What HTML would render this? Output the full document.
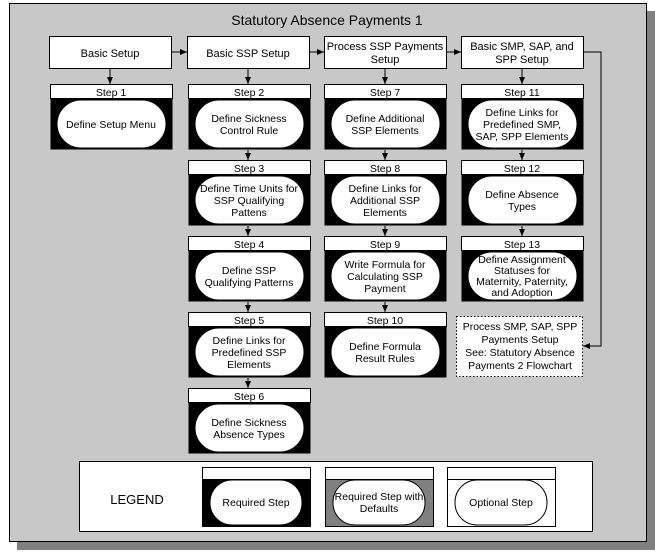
<!DOCTYPE html>
<html><head><meta charset="utf-8"><style>
html,body{margin:0;padding:0;background:#fff;width:655px;height:554px;overflow:hidden}
svg text{font-family:"Liberation Sans",Arial,sans-serif;fill:#000}
</style></head><body>
<svg width="655" height="554" viewBox="0 0 655 554" xmlns="http://www.w3.org/2000/svg">
<defs>
<marker id="a" markerWidth="8" markerHeight="8" refX="7" refY="4" orient="auto" markerUnits="userSpaceOnUse"><path d="M0,1 L7,4 L0,7 z" fill="#000"/></marker>
</defs>
<rect x="17" y="11" width="638" height="539" fill="#808080"/>
<rect x="9.5" y="3.5" width="637" height="538" fill="#c8c8c8" stroke="#000"/>
<text x="327" y="25" font-size="14" text-anchor="middle">Statutory Absence Payments 1</text>

<g stroke="#000" fill="#fff">
<rect x="49.5" y="36.5" width="122" height="32"/>
<rect x="187.5" y="36.5" width="122" height="32"/>
<rect x="324.5" y="36.5" width="122" height="32"/>
<rect x="461.5" y="36.5" width="122" height="32"/>
</g>
<g font-size="11" text-anchor="middle">
<text x="110" y="57">Basic Setup</text>
<text x="248" y="57">Basic SSP Setup</text>
<text x="385" y="50">Process SSP Payments</text><text x="385" y="63">Setup</text>
<text x="522" y="50">Basic SMP, SAP, and</text><text x="522" y="63">SPP Setup</text>
</g>
<g stroke="#000" fill="none" marker-end="url(#a)">
<line x1="172" y1="52" x2="187" y2="52"/>
<line x1="310" y1="52" x2="324" y2="52"/>
<line x1="447" y1="52" x2="461" y2="52"/>
<polyline points="584,52 601,52 601,346 583,346"/>
<line x1="110" y1="69" x2="110" y2="84"/>
<line x1="248" y1="69" x2="248" y2="84"/>
<line x1="385" y1="69" x2="385" y2="84"/>
<line x1="522" y1="69" x2="522" y2="84"/>
<line x1="248" y1="150" x2="248" y2="160"/>
<line x1="248" y1="226" x2="248" y2="236"/>
<line x1="248" y1="302" x2="248" y2="312"/>
<line x1="248" y1="378" x2="248" y2="388"/>
<line x1="385" y1="150" x2="385" y2="160"/>
<line x1="385" y1="226" x2="385" y2="236"/>
<line x1="385" y1="302" x2="385" y2="312"/>
<line x1="522" y1="150" x2="522" y2="160"/>
<line x1="522" y1="226" x2="522" y2="236"/>
</g>

<g font-size="10.5" text-anchor="middle">
<g transform="translate(50,84)"><rect x="0.5" y="0.5" width="122" height="65" fill="#000"/><rect x="0.5" y="0.5" width="122" height="14" fill="#fff" stroke="#000"/><rect x="7" y="16" width="109" height="48" rx="24" fill="#fff" stroke="#000"/><text x="61" y="12">Step 1</text><text x="61" y="44">Define Setup Menu</text></g>
<g transform="translate(188,84)"><rect x="0.5" y="0.5" width="122" height="65" fill="#000"/><rect x="0.5" y="0.5" width="122" height="14" fill="#fff" stroke="#000"/><rect x="7" y="16" width="109" height="48" rx="24" fill="#fff" stroke="#000"/><text x="61" y="12">Step 2</text><text x="61" y="38">Define Sickness</text><text x="61" y="50">Control Rule</text></g>
<g transform="translate(188,160)"><rect x="0.5" y="0.5" width="122" height="65" fill="#000"/><rect x="0.5" y="0.5" width="122" height="14" fill="#fff" stroke="#000"/><rect x="7" y="16" width="109" height="48" rx="24" fill="#fff" stroke="#000"/><text x="61" y="12">Step 3</text><text x="61" y="32">Define Time Units for</text><text x="61" y="44">SSP Qualifying</text><text x="61" y="56">Pattens</text></g>
<g transform="translate(188,236)"><rect x="0.5" y="0.5" width="122" height="65" fill="#000"/><rect x="0.5" y="0.5" width="122" height="14" fill="#fff" stroke="#000"/><rect x="7" y="16" width="109" height="48" rx="24" fill="#fff" stroke="#000"/><text x="61" y="12">Step 4</text><text x="61" y="38">Define SSP</text><text x="61" y="50">Qualifying Patterns</text></g>
<g transform="translate(188,312)"><rect x="0.5" y="0.5" width="122" height="65" fill="#000"/><rect x="0.5" y="0.5" width="122" height="14" fill="#fff" stroke="#000"/><rect x="7" y="16" width="109" height="48" rx="24" fill="#fff" stroke="#000"/><text x="61" y="12">Step 5</text><text x="61" y="32">Define Links for</text><text x="61" y="44">Predefined SSP</text><text x="61" y="56">Elements</text></g>
<g transform="translate(188,388)"><rect x="0.5" y="0.5" width="122" height="65" fill="#000"/><rect x="0.5" y="0.5" width="122" height="14" fill="#fff" stroke="#000"/><rect x="7" y="16" width="109" height="48" rx="24" fill="#fff" stroke="#000"/><text x="61" y="12">Step 6</text><text x="61" y="38">Define Sickness</text><text x="61" y="50">Absence Types</text></g>
<g transform="translate(324,84)"><rect x="0.5" y="0.5" width="122" height="65" fill="#000"/><rect x="0.5" y="0.5" width="122" height="14" fill="#fff" stroke="#000"/><rect x="7" y="16" width="109" height="48" rx="24" fill="#fff" stroke="#000"/><text x="61" y="12">Step 7</text><text x="61" y="38">Define Additional</text><text x="61" y="50">SSP Elements</text></g>
<g transform="translate(324,160)"><rect x="0.5" y="0.5" width="122" height="65" fill="#000"/><rect x="0.5" y="0.5" width="122" height="14" fill="#fff" stroke="#000"/><rect x="7" y="16" width="109" height="48" rx="24" fill="#fff" stroke="#000"/><text x="61" y="12">Step 8</text><text x="61" y="32">Define Links for</text><text x="61" y="44">Additional SSP</text><text x="61" y="56">Elements</text></g>
<g transform="translate(324,236)"><rect x="0.5" y="0.5" width="122" height="65" fill="#000"/><rect x="0.5" y="0.5" width="122" height="14" fill="#fff" stroke="#000"/><rect x="7" y="16" width="109" height="48" rx="24" fill="#fff" stroke="#000"/><text x="61" y="12">Step 9</text><text x="61" y="32">Write Formula for</text><text x="61" y="44">Calculating SSP</text><text x="61" y="56">Payment</text></g>
<g transform="translate(324,312)"><rect x="0.5" y="0.5" width="122" height="65" fill="#000"/><rect x="0.5" y="0.5" width="122" height="14" fill="#fff" stroke="#000"/><rect x="7" y="16" width="109" height="48" rx="24" fill="#fff" stroke="#000"/><text x="61" y="12">Step 10</text><text x="61" y="38">Define Formula</text><text x="61" y="50">Result Rules</text></g>
<g transform="translate(461,84)"><rect x="0.5" y="0.5" width="122" height="65" fill="#000"/><rect x="0.5" y="0.5" width="122" height="14" fill="#fff" stroke="#000"/><rect x="7" y="16" width="109" height="48" rx="24" fill="#fff" stroke="#000"/><text x="61" y="12">Step 11</text><text x="61" y="32">Define Links for</text><text x="61" y="44">Predefined SMP,</text><text x="61" y="56">SAP, SPP Elements</text></g>
<g transform="translate(461,160)"><rect x="0.5" y="0.5" width="122" height="65" fill="#000"/><rect x="0.5" y="0.5" width="122" height="14" fill="#fff" stroke="#000"/><rect x="7" y="16" width="109" height="48" rx="24" fill="#fff" stroke="#000"/><text x="61" y="12">Step 12</text><text x="61" y="38">Define Absence</text><text x="61" y="50">Types</text></g>
<g transform="translate(461,236)"><rect x="0.5" y="0.5" width="122" height="65" fill="#000"/><rect x="0.5" y="0.5" width="122" height="14" fill="#fff" stroke="#000"/><rect x="7" y="16" width="109" height="48" rx="24" fill="#fff" stroke="#000"/><text x="61" y="12">Step 13</text><text x="61" y="27">Define Assignment</text><text x="61" y="38">Statuses for</text><text x="61" y="49">Maternity, Paternity,</text><text x="61" y="60">and Adoption</text></g>
</g>

<rect x="456.5" y="316.5" width="126" height="60" fill="#fff" stroke="#000" stroke-dasharray="1.5,2"/>
<g font-size="10.5" text-anchor="middle">
<text x="520" y="330">Process SMP, SAP, SPP</text>
<text x="520" y="343">Payments Setup</text>
<text x="520" y="356">See: Statutory Absence</text>
<text x="520" y="369">Payments 2 Flowchart</text>
</g>

<rect x="79.5" y="461.5" width="513" height="70" fill="#fff" stroke="#000"/>
<text x="137" y="504" font-size="13" text-anchor="middle">LEGEND</text>
<g font-size="10.5" text-anchor="middle">
<g transform="translate(202,467)"><rect x="0.5" y="0.5" width="108" height="59" fill="#000" stroke="#000"/><rect x="0.5" y="0.5" width="108" height="12" fill="#fff" stroke="#000"/><rect x="8" y="13" width="92" height="45" rx="22" fill="#fff" stroke="#000"/><text x="54" y="39">Required Step</text></g>
<g transform="translate(325,467)"><rect x="0.5" y="0.5" width="108" height="59" fill="#808080" stroke="#000"/><rect x="0.5" y="0.5" width="108" height="12" fill="#fff" stroke="#000"/><rect x="8" y="13" width="92" height="45" rx="22" fill="#fff" stroke="#000"/><text x="54" y="33">Required Step with</text><text x="54" y="45">Defaults</text></g>
<g transform="translate(447,467)"><rect x="0.5" y="0.5" width="108" height="59" fill="#fff" stroke="#000"/><rect x="0.5" y="0.5" width="108" height="12" fill="#fff" stroke="#000"/><rect x="8" y="13" width="92" height="45" rx="22" fill="#fff" stroke="#000"/><text x="54" y="39">Optional Step</text></g>
</g>
</svg>
</body></html>
